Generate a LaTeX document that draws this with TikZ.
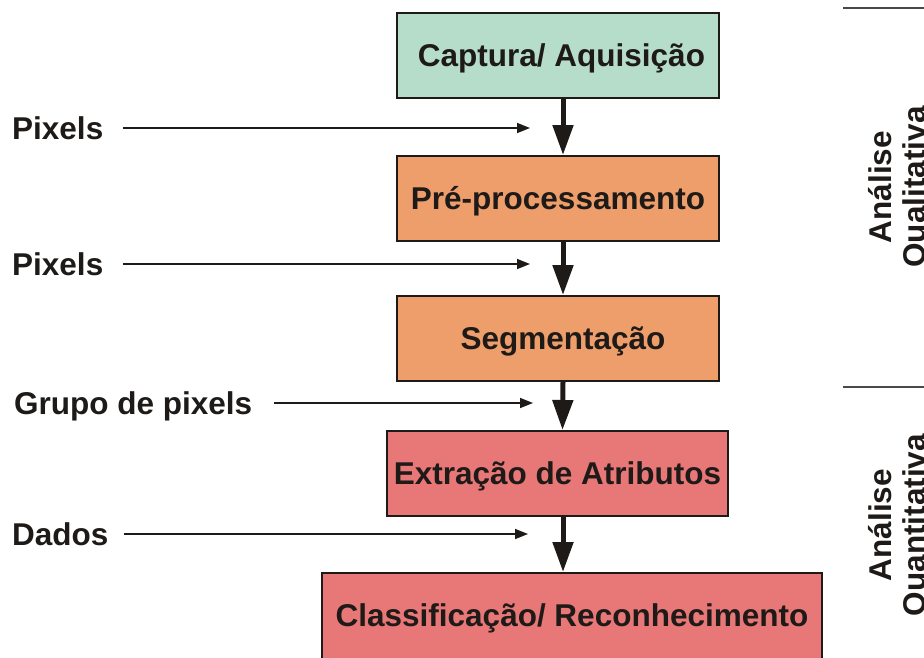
\documentclass[tikz,border=0pt]{standalone}
\usepackage{fontspec}
\setmainfont{Liberation Sans}
\usetikzlibrary{arrows.meta}
\definecolor{cgreen}{RGB}{181,221,201}
\definecolor{corange}{RGB}{238,158,106}
\definecolor{cred}{RGB}{232,119,119}
\definecolor{ink}{RGB}{30,26,24}
\begin{document}
\begin{tikzpicture}[x=1pt,y=-1pt,
  box/.style={draw=ink, line width=2pt, inner sep=0pt,
    font=\fontsize{31.5}{36}\selectfont\bfseries, text=ink,
    text height=27pt, text depth=5pt},
  bigarrow/.style={line width=5pt, draw=ink, -{Triangle[width=20pt,length=30pt]}},
  lab/.style={anchor=west, inner sep=0pt, text=ink,
    font=\fontsize{31.5}{36}\selectfont\bfseries, text height=23pt, text depth=0pt},
  thinarrow/.style={line width=1.6pt, draw=ink, -{Triangle[width=10pt,length=13pt]}},
  side/.style={rotate=90, anchor=base, inner sep=0pt, text=ink,
    font=\fontsize{31.5}{36}\selectfont\bfseries},
  rule/.style={line width=2pt, draw=ink!80}
]
\useasboundingbox (0,0) rectangle (924,657);

% boxes
\node[box, fill=cgreen, minimum width=322pt, minimum height=85pt] (b1) at (558,55.5) {\hspace{7pt}Captura/ Aquisição};
\node[box, fill=corange, minimum width=322pt, minimum height=85pt] (b2) at (558,198.5) {Pré-processamento};
\node[box, fill=corange, minimum width=322pt, minimum height=85pt] (b3) at (558,338.5) {\hspace{10pt}Segmentação};
\node[box, fill=cred, minimum width=341pt, minimum height=85pt] (b4) at (557.5,473.5) {Extração de Atributos};
\node[box, fill=cred, minimum width=500pt, text height=53pt, text depth=95pt, anchor=north] (b5) at (572,572) {Classificação/ Reconhecimento};

% main flow arrows
\draw[bigarrow] ([xshift=5pt]b1.south) -- ([xshift=5pt]b2.north);
\draw[bigarrow] ([xshift=5pt]b2.south) -- ([xshift=5pt]b3.north);
\draw[bigarrow] ([xshift=5pt]b3.south) -- ([xshift=5pt]b4.north);
\draw[bigarrow] ([xshift=5.5pt]b4.south) -- ([xshift=-9pt]b5.north);

% data labels
\node[lab] (l1) at (12,128) {Pixels};
\node[lab] (l2) at (12,264) {Pixels};
\node[lab] (l3) at (14,403) {Grupo de pixels};
\node[lab] (l4) at (12,534) {Dados};
\coordinate (e1) at (530,128);
\coordinate (e2) at (530,264);
\coordinate (e3) at (533,403);
\coordinate (e4) at (528,534);
\draw[thinarrow] ([xshift=20pt]l1.east) -- (e1);
\draw[thinarrow] ([xshift=20pt]l2.east) -- (e2);
\draw[thinarrow] ([xshift=22pt]l3.east) -- (e3);
\draw[thinarrow] ([xshift=15pt]l4.east) -- (e4);

% side annotations
\draw[rule] (843,8) -- (924,8);
\draw[rule] (843,387) -- (924,387);
\node[side] (s1a) at (891,187) {Análise};
\node[side] (s1b) at (925,187) {Qualitativa};
\node[side] (s2a) at (891,525) {Análise};
\node[side] (s2b) at (925,525) {Quantitativa};
\end{tikzpicture}
\end{document}
